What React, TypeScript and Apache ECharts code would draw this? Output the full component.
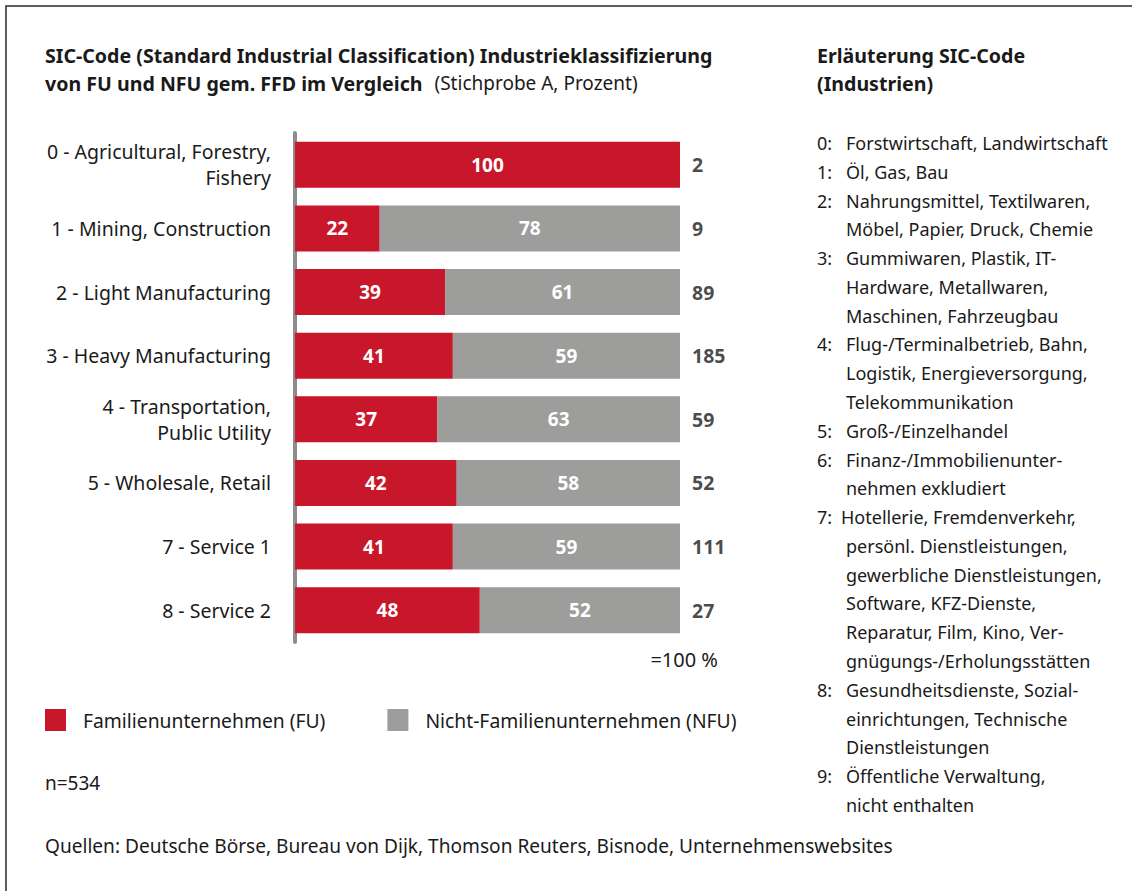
import { useEffect, useRef } from "react";
import * as echarts from "echarts";

const FONT = "Noto Sans";

const categories = [
  "0 - Agricultural, Forestry,\nFishery",
  "1 - Mining, Construction",
  "2 - Light Manufacturing",
  "3 - Heavy Manufacturing",
  "4 - Transportation,\nPublic Utility",
  "5 - Wholesale, Retail",
  "7 - Service 1",
  "8 - Service 2",
];
const fuShare = [100, 22, 39, 41, 37, 42, 41, 48];
const nfuShare = [0, 78, 61, 59, 63, 58, 59, 52];
const counts = [2, 9, 89, 185, 59, 52, 111, 27];

const seriesNames = ["Familienunternehmen (FU)", "Nicht-Familienunternehmen (NFU)"];

const sicNotes: [string, string[]][] = [
  ["0:", ["Forstwirtschaft, Landwirtschaft"]],
  ["1:", ["Öl, Gas, Bau"]],
  ["2:", ["Nahrungsmittel, Textilwaren,", "Möbel, Papier, Druck, Chemie"]],
  ["3:", ["Gummiwaren, Plastik, IT-", "Hardware, Metallwaren,", "Maschinen, Fahrzeugbau"]],
  ["4:", ["Flug-/Terminalbetrieb, Bahn,", "Logistik, Energieversorgung,", "Telekommunikation"]],
  ["5:", ["Groß-/Einzelhandel"]],
  ["6:", ["Finanz-/Immobilienunter-", "nehmen exkludiert"]],
  ["7:", ["Hotellerie, Fremdenverkehr,", "persönl. Dienstleistungen,", "gewerbliche Dienstleistungen,", "Software, KFZ-Dienste,", "Reparatur, Film, Kino, Ver-", "gnügungs-/Erholungsstätten"]],
  ["8:", ["Gesundheitsdienste, Sozial-", "einrichtungen, Technische", "Dienstleistungen"]],
  ["9:", ["Öffentliche Verwaltung,", "nicht enthalten"]],
];

const RED = "#C8172A";
const GREY = "#9D9D9C";
const TXT = "#1a1a1a";

export default function App() {
  const ref = useRef<HTMLDivElement>(null);
  useEffect(() => {
    if (!ref.current) return;
    const chart = echarts.init(ref.current, undefined, { renderer: "svg" });

    const graphics: any[] = [];
    graphics.push({
      type: "rect",
      shape: { x: 6, y: 6, width: 1300, height: 1000 },
      style: { fill: "none", stroke: "#2a2a2a", lineWidth: 1.5 },
      silent: true,
    });
    graphics.push({
      type: "text",
      x: 45,
      y: 55,
      style: {
        text: "SIC-Code (Standard Industrial Classification) Industrieklassifizierung",
        font: `bold 19.6px "${FONT}"`,
        fill: TXT,
        verticalAlign: "middle",
      },
    });
    graphics.push({
      type: "text",
      x: 45,
      y: 83,
      style: {
        text: "{b|von FU und NFU gem. FFD im Vergleich}{n|(Stichprobe A, Prozent)}",
        rich: {
          b: { font: `bold 19.6px "${FONT}"`, fill: TXT },
          n: { font: `19px "${FONT}"`, fill: TXT, padding: [0, 0, 0, 12] },
        },
        verticalAlign: "middle",
      },
    });
    graphics.push({
      type: "text",
      x: 817,
      y: 55,
      style: { text: "Erläuterung SIC-Code", font: `bold 19.6px "${FONT}"`, fill: TXT, verticalAlign: "middle" },
    });
    graphics.push({
      type: "text",
      x: 817,
      y: 83,
      style: { text: "(Industrien)", font: `bold 19.6px "${FONT}"`, fill: TXT, verticalAlign: "middle" },
    });
    let k = 0;
    sicNotes.forEach(([code, lines]) => {
      lines.forEach((ln, j) => {
        const y = 143 + k * 28.78;
        if (j === 0) {
          graphics.push({
            type: "text",
            x: 817,
            y,
            style: { text: code, font: `18px "${FONT}"`, fill: TXT, verticalAlign: "middle" },
          });
        }
        graphics.push({
          type: "text",
          x: code === "7:" && j === 0 ? 841 : 846,
          y,
          style: { text: ln, font: `18px "${FONT}"`, fill: TXT, verticalAlign: "middle" },
        });
        k++;
      });
    });
    graphics.push({
      type: "text",
      x: 718,
      y: 659,
      style: { text: "=100 %", font: `20px "${FONT}"`, fill: TXT, align: "right", verticalAlign: "middle" },
    });
    graphics.push({
      type: "text",
      x: 45,
      y: 783,
      style: { text: "n=534", font: `19px "${FONT}"`, fill: TXT, verticalAlign: "middle" },
    });
    graphics.push({
      type: "text",
      x: 45,
      y: 846,
      style: {
        text: "Quellen: Deutsche Börse, Bureau von Dijk, Thomson Reuters, Bisnode, Unternehmenswebsites",
        font: `19.1px "${FONT}"`,
        fill: TXT,
        verticalAlign: "middle",
      },
    });

    chart.setOption({
      animation: false,
      textStyle: { fontFamily: FONT },
      grid: { left: 295, width: 385, top: 133, height: 509 },
      legend: {
        data: seriesNames,
        left: 45,
        top: 709,
        padding: 0,
        icon: "rect",
        itemWidth: 21,
        itemHeight: 22,
        itemGap: 62,
        textStyle: { fontSize: 19.3, color: TXT, fontFamily: FONT, padding: [0, 0, 0, 12] },
        selectedMode: false,
      },
      xAxis: { type: "value", min: 0, max: 100, show: false },
      yAxis: {
        type: "category",
        inverse: true,
        data: categories,
        offset: 2,
        axisLine: { show: true, lineStyle: { color: "#8c8c8c", width: 4 } },
        axisTick: { show: false },
        axisLabel: { color: TXT, fontSize: 19.5, margin: 22, lineHeight: 26, fontFamily: FONT, align: "right" },
      },
      series: [
        {
          name: seriesNames[0],
          type: "bar",
          stack: "s",
          barWidth: 46,
          data: fuShare,
          itemStyle: { color: RED },
          label: {
            show: true,
            position: "inside",
            color: "#fff",
            fontWeight: "bold",
            fontSize: 19,
            formatter: (p: any) => (p.value > 0 ? String(p.value) : ""),
          },
        },
        {
          name: seriesNames[1],
          type: "bar",
          stack: "s",
          barWidth: 46,
          data: nfuShare,
          itemStyle: { color: GREY },
          label: {
            show: true,
            position: "inside",
            color: "#fff",
            fontWeight: "bold",
            fontSize: 19,
            formatter: (p: any) => (p.value > 0 ? String(p.value) : ""),
          },
        },
        {
          name: "n",
          type: "scatter",
          symbolSize: 0,
          data: fuShare.map((f, i) => [f + nfuShare[i], i]),
          label: {
            show: true,
            position: "right",
            distance: 12,
            color: TXT,
            fontWeight: "bold",
            fontSize: 19.5,
            formatter: (p: any) => String(counts[p.dataIndex]),
          },
          silent: true,
        },
      ],
      graphic: graphics,
    });
    return () => chart.dispose();
  }, []);
  return (
    <div
      ref={ref}
      style={{ position: "fixed", left: 0, top: 0, width: 1132, height: 891, background: "#fff" }}
    />
  );
}
